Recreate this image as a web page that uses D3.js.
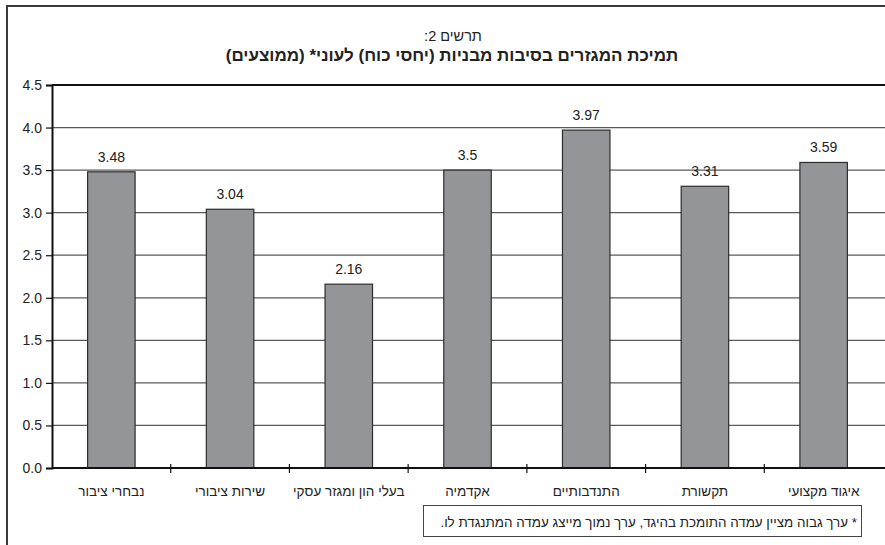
<!DOCTYPE html>
<html lang="he">
<head>
<meta charset="utf-8">
<script src="https://cdn.jsdelivr.net/npm/d3@7"></script>
<style>
  html, body { margin: 0; padding: 0; background: #fff; }
  svg { display: block; font-family: "Liberation Sans", Arial, sans-serif; }
</style>
</head>
<body>
<svg id="chart" width="885" height="545"></svg>
<script>
// Categories (left to right) and average support values
const categories = [
  "נבחרי ציבור",
  "שירות ציבורי",
  "בעלי הון ומגזר עסקי",
  "אקדמיה",
  "התנדבותיים",
  "תקשורת",
  "איגוד מקצועי"
];
const values = [3.48, 3.04, 2.16, 3.5, 3.97, 3.31, 3.59];
const valueLabels = ["3.48", "3.04", "2.16", "3.5", "3.97", "3.31", "3.59"];
const yTicks = [0, 0.5, 1, 1.5, 2, 2.5, 3, 3.5, 4, 4.5];

const chartTitle = "תרשים 2:";
const chartSubtitle = "תמיכת המגזרים בסיבות מבניות (יחסי כוח) לעוני* (ממוצעים)";
const footnote = "* ערך גבוה מציין עמדה התומכת בהיגד, ערך נמוך מייצג עמדה המתנגדת לו.";

const svg = d3.select("#chart");
const plotLeft = 52, plotRight = 883, plotTop = 85, plotBottom = 468;

const x = d3.scaleBand().domain(categories).range([plotLeft, plotRight]).paddingInner(0.6).paddingOuter(0.3);
const xTickScale = d3.scaleLinear().domain([0, categories.length]).range([plotLeft, plotRight]);
const y = d3.scaleLinear().domain([0, 4.5]).range([plotBottom, plotTop]);

// Outer frame (top and left edges visible)
svg.append("path")
  .attr("d", `M7,545 V6 H885`)
  .attr("fill", "none")
  .attr("stroke", "#3a3a3a")
  .attr("stroke-width", 2);

// Titles
svg.append("text")
  .attr("x", 453).attr("y", 41)
  .attr("text-anchor", "middle")
  .attr("direction", "rtl")
  .attr("font-size", 14.5)
  .attr("fill", "#222")
  .text(chartTitle);
svg.append("text")
  .attr("x", 452).attr("y", 61)
  .attr("text-anchor", "middle")
  .attr("direction", "rtl")
  .attr("font-size", 17)
  .attr("font-weight", "bold")
  .attr("fill", "#222")
  .text(chartSubtitle);

// Horizontal gridlines
svg.append("g").selectAll("line")
  .data(yTicks.filter(d => d > 0))
  .join("line")
  .attr("x1", plotLeft).attr("x2", 885)
  .attr("y1", d => y(d)).attr("y2", d => y(d))
  .attr("stroke", d => d === 4.5 ? "#111" : "#5a5a5a")
  .attr("stroke-width", d => d === 4.5 ? 2 : 1.2);

// Y axis
const yAxis = svg.append("g")
  .attr("transform", `translate(${plotLeft},0)`)
  .call(d3.axisLeft(y).tickValues(yTicks).tickFormat(d3.format(".1f")).tickSize(6).tickPadding(4));
yAxis.select(".domain").attr("stroke", "#111").attr("stroke-width", 2);
yAxis.selectAll(".tick line").attr("stroke", "#111").attr("stroke-width", 1.2);
yAxis.selectAll(".tick text")
  .attr("font-size", 14)
  .attr("font-family", "Liberation Sans, Arial, sans-serif")
  .attr("fill", "#222");

// Bars
svg.append("g").selectAll("rect")
  .data(values)
  .join("rect")
  .attr("x", (d, i) => x(categories[i]))
  .attr("width", x.bandwidth())
  .attr("y", d => y(d))
  .attr("height", d => y(0) - y(d))
  .attr("fill", "#949599")
  .attr("stroke", "#2d2d2d")
  .attr("stroke-width", 1.2);

// Value labels
svg.append("g").selectAll("text")
  .data(values)
  .join("text")
  .attr("x", (d, i) => x(categories[i]) + x.bandwidth() / 2)
  .attr("y", d => y(d) - 10)
  .attr("text-anchor", "middle")
  .attr("font-size", 14)
  .attr("fill", "#222")
  .text((d, i) => valueLabels[i]);

// X axis line and category ticks
svg.append("line")
  .attr("x1", plotLeft).attr("x2", 885)
  .attr("y1", plotBottom).attr("y2", plotBottom)
  .attr("stroke", "#111").attr("stroke-width", 2);
svg.append("g").selectAll("line")
  .data(d3.range(1, categories.length))
  .join("line")
  .attr("x1", d => xTickScale(d)).attr("x2", d => xTickScale(d))
  .attr("y1", plotBottom - 4).attr("y2", plotBottom + 5)
  .attr("stroke", "#111").attr("stroke-width", 1.2);

// Category labels
svg.append("g").selectAll("text")
  .data(categories)
  .join("text")
  .attr("x", d => x(d) + x.bandwidth() / 2)
  .attr("y", 496)
  .attr("text-anchor", "middle")
  .attr("direction", "rtl")
  .attr("font-size", 13.5)
  .attr("fill", "#222")
  .text(d => d);

// Footnote box
svg.append("rect")
  .attr("x", 423.5).attr("y", 505.5)
  .attr("width", 438).attr("height", 31)
  .attr("fill", "#fff")
  .attr("stroke", "#444")
  .attr("stroke-width", 1);
svg.append("text")
  .attr("x", 857).attr("y", 527)
  .attr("text-anchor", "start")
  .attr("direction", "rtl")
  .attr("font-size", 13.4)
  .attr("fill", "#222")
  .text(footnote);
</script>
</body>
</html>
